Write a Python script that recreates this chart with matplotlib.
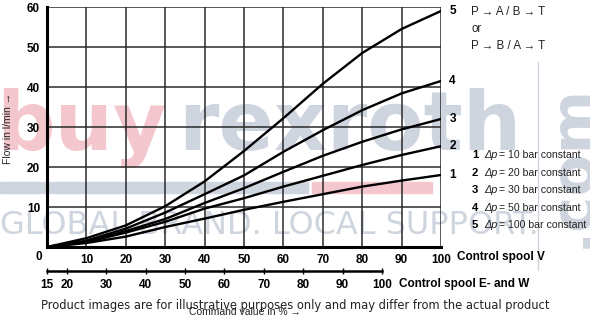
import matplotlib
matplotlib.use("Agg")
import matplotlib.pyplot as plt
from matplotlib.patches import Rectangle

# command value (control spool V) in %
command = [0, 10, 20, 30, 40, 50, 60, 70, 80, 90, 100]
# flow in l/min, one list per pressure drop
flow_dp10 = [0, 1.0, 2.6, 5.0, 7.1, 9.3, 11.3, 13.2, 15.1, 16.6, 18.0]
flow_dp20 = [0, 1.2, 3.6, 6.3, 9.6, 12.2, 15.1, 17.8, 20.5, 23.0, 25.2]
flow_dp30 = [0, 1.3, 4.0, 7.0, 11.0, 14.7, 18.8, 22.8, 26.3, 29.4, 32.0]
flow_dp50 = [0, 1.6, 4.6, 8.6, 13.2, 17.9, 23.8, 29.2, 34.2, 38.4, 41.5]
flow_dp100 = [0, 2.2, 5.4, 10.2, 16.4, 24.0, 32.2, 40.8, 48.5, 54.5, 59.0]

curve_ids = ["1", "2", "3", "4", "5"]
dp_values = [10, 20, 30, 50, 100]
x_ticks_v = [10, 20, 30, 40, 50, 60, 70, 80, 90, 100]
y_ticks = [10, 20, 30, 40, 50, 60]
ew_ticks = [15, 20, 30, 40, 50, 60, 70, 80, 90, 100]

W, H = 590, 319
fig = plt.figure(figsize=(W / 100, H / 100), dpi=100)
fig.patch.set_facecolor("white")


def fx(px):
    return px / W


def fy(py):
    return 1 - py / H


# --- faint shop watermark behind the chart ---
wm_pink = "#f4c6ce"
wm_gray = "#cfd5de"
fig.text(fx(-4), fy(150), "buy", fontsize=59, fontweight="bold",
         color=wm_pink, family="DejaVu Sans", zorder=-2, va="baseline")
fig.text(fx(178), fy(150), "rexroth", fontsize=59, fontweight="bold",
         color=wm_gray, family="DejaVu Sans", zorder=-2, va="baseline")
fig.patches.append(Rectangle((fx(0), fy(193)), fx(308), 11 / H,
                             transform=fig.transFigure, color=wm_gray,
                             zorder=-2))
fig.patches.append(Rectangle((fx(312), fy(193)), fx(120), 11 / H,
                             transform=fig.transFigure, color=wm_pink,
                             zorder=-2))
fig.text(fx(0), fy(234), "GLOBAL BRAND. LOCAL SUPPORT.", fontsize=23,
         color=wm_gray, family="DejaVu Sans", zorder=-2, va="baseline")
fig.lines.append(plt.Line2D([fx(538), fx(538)], [fy(62), fy(270)],
                            transform=fig.transFigure, color=wm_gray,
                            lw=1, zorder=-2))
fig.text(fx(572), fy(165), ".com", fontsize=44, fontweight="bold",
         color=wm_gray, family="DejaVu Sans", rotation=90, zorder=-2,
         ha="center", va="center")

# --- main axes ---
ax = fig.add_axes([fx(47), fy(247), fx(441 - 47), (247 - 7) / H])
ax.patch.set_alpha(0)
ax.set_xlim(0, 100)
ax.set_ylim(0, 60)

for v in x_ticks_v:
    ax.axvline(v, color="#2a2a2a", lw=1.1, zorder=1)
for v in y_ticks:
    ax.axhline(v, color="#2a2a2a", lw=1.1, zorder=1)

series = [flow_dp10, flow_dp20, flow_dp30, flow_dp50, flow_dp100]
for cid, ys in zip(curve_ids, series):
    ax.plot(command, ys, color="black", lw=1.7, zorder=3,
            solid_joinstyle="round")
    ax.annotate(cid, xy=(100, ys[-1]), xytext=(6, 0),
                textcoords="offset points", va="center", ha="left",
                fontsize=8.5, fontweight="bold", family="Liberation Sans",
                annotation_clip=False)

for side in ["top", "right"]:
    ax.spines[side].set_visible(False)
for side in ["left", "bottom"]:
    ax.spines[side].set_linewidth(2.2)
    ax.spines[side].set_color("black")

ax.set_xticks(x_ticks_v)
ax.set_yticks(y_ticks)
ax.tick_params(length=0, pad=5, labelsize=8.5)
for lab in ax.get_xticklabels() + ax.get_yticklabels():
    lab.set_fontweight("bold")
    lab.set_family("Liberation Sans")
fig.text(fx(39), fy(257), "0", fontsize=8.5, fontweight="bold",
         family="Liberation Sans", ha="center", va="center")
fig.text(fx(457), fy(257), "Control spool V", fontsize=8.5,
         fontweight="bold", family="Liberation Sans", va="center")

# --- second scale for spool E and W ---
ax2 = fig.add_axes([fx(47), fy(271), fx(382 - 47), 0.0001])
ax2.patch.set_alpha(0)
ax2.set_xlim(15, 100)
ax2.set_yticks([])
for side in ["top", "right", "left"]:
    ax2.spines[side].set_visible(False)
ax2.spines["bottom"].set_linewidth(1.8)
ax2.set_xticks(ew_ticks)
ax2.tick_params(axis="x", direction="inout", length=5, width=1,
                pad=3, labelsize=8.5)
for lab in ax2.get_xticklabels():
    lab.set_fontweight("bold")
    lab.set_family("Liberation Sans")
fig.text(fx(399), fy(284), "Control spool E- and W", fontsize=8.5,
         fontweight="bold", family="Liberation Sans", va="center")

# --- axis titles ---
fig.text(fx(8), fy(128), "Flow in l/min \u2192", rotation=90, fontsize=7.5,
         family="Liberation Sans", color="#222222", ha="center", va="center")
fig.text(fx(245), fy(312), "Command value in % \u2192", fontsize=7.5,
         family="Liberation Sans", color="#222222", ha="center", va="center")

# --- flow direction note and legend ---
fig.text(fx(471), fy(12), "P \u2192 A / B \u2192 T", fontsize=8.3,
         family="Liberation Sans", color="#222222", va="center")
fig.text(fx(471), fy(29), "or", fontsize=8.3, family="Liberation Sans",
         color="#222222", va="center")
fig.text(fx(471), fy(46), "P \u2192 B / A \u2192 T", fontsize=8.3,
         family="Liberation Sans", color="#222222", va="center")

for i, (cid, dp) in enumerate(zip(curve_ids, dp_values)):
    yy = fy(155 + i * 17.6)
    fig.text(fx(472), yy, cid, fontsize=8.2, fontweight="bold",
             family="Liberation Sans", va="center")
    fig.text(fx(484), yy, "\u0394p", fontsize=7.8, fontstyle="italic",
             family="Liberation Sans", color="#222222", va="center")
    fig.text(fx(499), yy, f"= {dp} bar constant", fontsize=7.6,
             family="Liberation Sans", color="#222222", va="center")

# shop disclaimer line across the bottom
fig.text(fx(295), fy(305), "Product images are for illustrative purposes "
         "only and may differ from the actual product", fontsize=8.3,
         family="DejaVu Sans", color="#222222", ha="center", va="center")

fig.savefig("out.png", dpi=100)
